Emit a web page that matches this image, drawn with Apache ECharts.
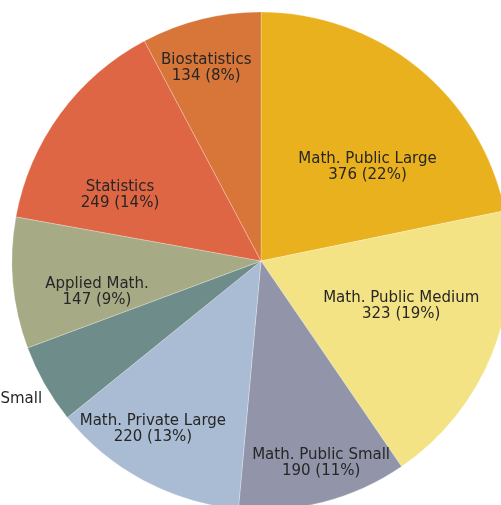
<!DOCTYPE html>
<html><head><meta charset="utf-8">
<script src="https://cdn.jsdelivr.net/npm/echarts@6/dist/echarts.min.js"></script>
<style>html,body{margin:0;padding:0;background:#fff}#c{width:501px;height:505px}</style>
</head><body><div id="c"></div>
<script>
const categories = ['Math. Public Large','Math. Public Medium','Math. Public Small','Math. Private Large','Math. Private Small','Applied Math.','Statistics','Biostatistics'];
const values = [376, 323, 190, 220, 89, 147, 249, 134];
const colors = ['#EAB11E','#F3E384','#9295A9','#AABCD3','#6E8C8A','#A6AB86','#DE6645','#D77638'];
const labelOffsets = [[26,5],[22,-3],[28,79],[-48,56],[-181,83],[-37,20],[-38,9],[-24,-69]];
const total = values.reduce((a,b)=>a+b,0);
const chart = echarts.init(document.getElementById('c'), null, {renderer:'canvas'});
chart.setOption({
  animation:false,
  series:[{
    type:'pie',
    center:[261,261],
    radius:[0,249],
    startAngle:90,
    clockwise:true,
    avoidLabelOverlap:false,
    itemStyle:{borderColor:'rgba(255,255,255,0.5)',borderWidth:0.5},
    label:{
      position:'inside',
      fontFamily:'DejaVu Sans',
      fontSize:15,
      lineHeight:16,
      color:'#262626',
      formatter:p=>p.name+'\n'+p.value+' ('+Math.round(p.value/total*100)+'%)'
    },
    labelLine:{show:false},
    emphasis:{disabled:true},
    data:categories.map((n,i)=>({name:n,value:values[i],itemStyle:{color:colors[i]},label:{offset:labelOffsets[i]}}))
  }]
});
</script></body></html>
